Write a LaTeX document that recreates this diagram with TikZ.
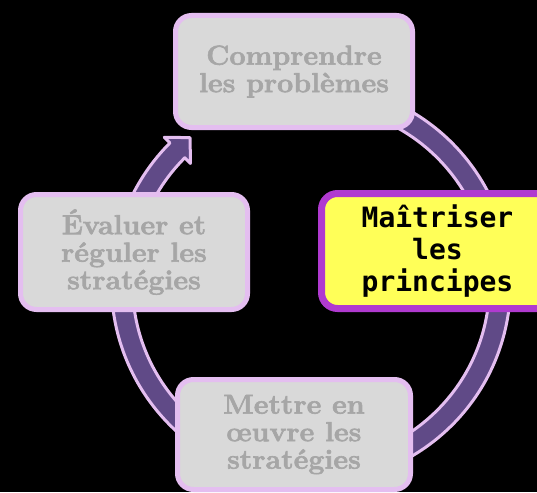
\documentclass[tikz,border=0pt]{standalone}
\usepackage{fontspec}
\newfontfamily\boxmono{DejaVu Sans Mono}
\newfontfamily\posterfont{Latin Modern Roman}[BoldFeatures={FakeBold=2.2,FakeStretch=1.04}]
\usetikzlibrary{calc}
\definecolor{ringfill}{RGB}{96,74,135}
\definecolor{lav}{RGB}{228,190,240}
\definecolor{boxgray}{RGB}{217,217,217}
\definecolor{txtgray}{RGB}{166,166,166}
\definecolor{hiyellow}{RGB}{255,255,88}
\definecolor{hipurple}{RGB}{176,58,208}
\tikzset{
  graybox/.style={draw=lav, line width=5pt, fill=boxgray, rounded corners=16pt,
    align=center, text=txtgray, inner sep=0pt,
    font=\posterfont\fontsize{27.5}{27.5}\selectfont\bfseries},
  hibox/.style={draw=hipurple, line width=7pt, fill=hiyellow, rounded corners=16pt,
    align=center, text=black, inner sep=0pt,
    font=\boxmono\fontsize{28}{32}\selectfont\bfseries},
  ringshape/.style={fill=ringfill, draw=lav, line width=3pt, line join=round}
}
\begin{document}
\begin{tikzpicture}[x=1pt,y=-1pt]
\fill[black] (0,0) rectangle (537,492);
\useasboundingbox (0,0) rectangle (537,492);
\clip (0,0) rectangle (537,492);
\coordinate (C) at (311,284);
\coordinate (Tip) at ($(C)+(225:189)+(315:18)$);
\filldraw[ringshape] ($(C)+(-80:199.5)$) arc[start angle=-80,end angle=225,radius=199.5]
  -- ($(C)+(225:207.5)$) -- (Tip) -- ($(C)+(225:170.5)$)
  -- ($(C)+(225:178.5)$) arc[start angle=225,end angle=-80,radius=178.5] -- cycle;
\node[graybox, minimum width=237pt, minimum height=112pt] (top) at (294,71.5) {Comprendre\\les problèmes};
\node[graybox, minimum width=227pt, minimum height=115pt] (left) at (134,252) {Évaluer et\\réguler les\\stratégies};
\node[graybox, minimum width=233pt, minimum height=110pt] (bottom) at (294,434.5) {Mettre en\\œuvre les\\stratégies};
\node[hibox, minimum width=232pt, minimum height=115pt] (right) at (437.5,251) {Maîtriser\\les\\principes};
\end{tikzpicture}
\end{document}
